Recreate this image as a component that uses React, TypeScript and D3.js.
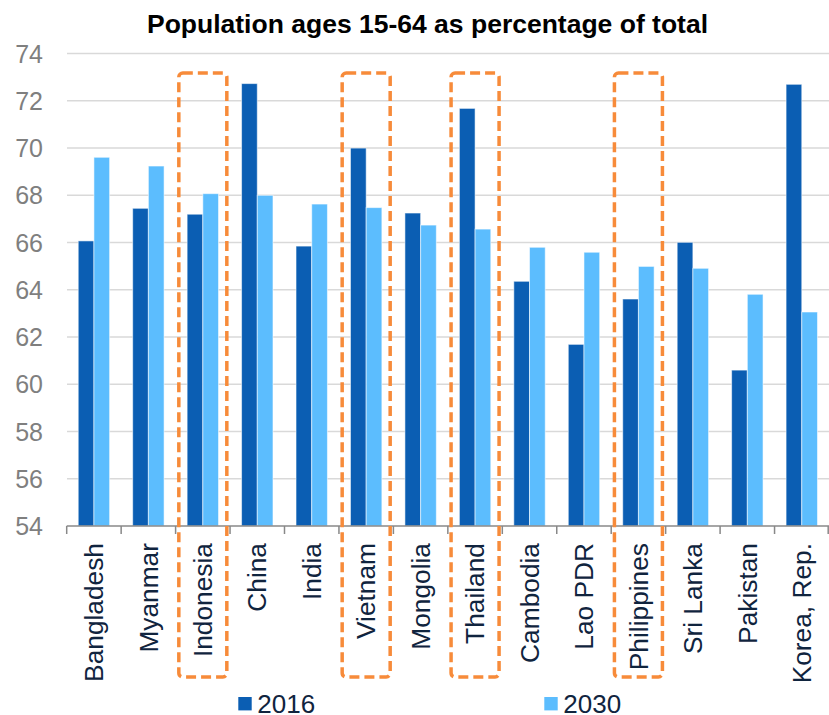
import React from "react";
import * as d3 from "d3";

const categories = ["Bangladesh","Myanmar","Indonesia","China","India","Vietnam","Mongolia","Thailand","Cambodia","Lao PDR","Philippines","Sri Lanka","Pakistan","Korea, Rep."];
const values2016 = [66.07,67.45,67.2,72.73,65.85,70.0,67.25,71.68,64.36,61.69,63.61,66.01,60.6,72.7];
const values2030 = [69.61,69.24,68.07,68.0,67.63,67.48,66.74,66.57,65.8,65.59,64.99,64.91,63.81,63.06];
const seriesNames = ["2016","2030"];
const yTicks = [54,56,58,60,62,64,66,68,70,72,74];
const highlighted = ["Indonesia","Vietnam","Thailand","Philippines"];
const title = "Population ages 15-64 as percentage of total";

const W = 829, H = 715;
const FONT = "'Liberation Sans', Arial, sans-serif";
const colors = ["#0B5EB3", "#5CBDFE"];

export default function App() {
  const x0 = d3.scaleBand<string>().domain(categories).range([66.7, 829]).paddingInner(0).paddingOuter(0);
  const x1 = d3.scaleBand<string>().domain(seriesNames).range([0, x0.bandwidth()]).paddingInner(0).paddingOuter(0.734);
  const y = d3.scaleLinear().domain([54, 74]).range([526, 53.6]);
  const seriesVals = [values2016, values2030];
  const bw = x0.bandwidth();

  return (
    <svg width={W} height={H} style={{ position: "absolute", left: 0, top: 0, background: "#fff" }} fontFamily={FONT}>
      <text x={427.5} y={33} textAnchor="middle" fontSize={26.5} fontWeight="bold" fill="#000">{title}</text>
      {yTicks.filter(t => t > 54).map(t => (
        <line key={t} x1={67} x2={829} y1={y(t)} y2={y(t)} stroke="#d9d9d9" strokeWidth={1.5} />
      ))}
      {yTicks.map(t => (
        <text key={"l" + t} x={43} y={y(t)} dy="0.36em" textAnchor="end" fontSize={25} fill="#7f7f7f">{t}</text>
      ))}
      {categories.map((c, i) => (
        <g key={c} transform={`translate(${x0(c)},0)`}>
          {seriesNames.map((s, j) => (
            <rect key={s} x={x1(s)} y={y(seriesVals[j][i])} width={x1.bandwidth()} height={y(54) - y(seriesVals[j][i])}
              fill={colors[j]} stroke="rgba(255,255,255,0.55)" strokeWidth={1} />
          ))}
        </g>
      ))}
      <line x1={66.7} x2={829} y1={y(54)} y2={y(54)} stroke="#888" strokeWidth={1.5} />
      {d3.range(categories.length + 1).map(i => {
        const xx = Math.min(66.7 + i * bw, 828.2);
        return <line key={"t" + i} x1={xx} x2={xx} y1={y(54)} y2={y(54) + 8} stroke="#888" strokeWidth={1.5} />;
      })}
      {categories.map(c => {
        const cx = (x0(c) as number) + bw / 2;
        return (
          <text key={"c" + c} transform={`translate(${cx},543) rotate(-90)`} dy="0.35em" textAnchor="end" fontSize={26.3} fill="#10243e">{c}</text>
        );
      })}
      {highlighted.map(c => {
        const cx = (x0(c) as number) + bw / 2;
        return (
          <rect key={"h" + c} x={cx - 24} y={73} width={48} height={604} rx={4} fill="none" stroke="#F78B3A" strokeWidth={3.5} strokeDasharray="10 5" />
        );
      })}
      {seriesNames.map((s, j) => {
        const lx = j === 0 ? 238.3 : 544.3;
        return (
          <g key={"lg" + s}>
            <rect x={lx} y={697} width={13.4} height={13.4} fill={colors[j]} />
            <text x={lx + 19} y={712.5} fontSize={26} fill="#10243e">{s}</text>
          </g>
        );
      })}
    </svg>
  );
}
